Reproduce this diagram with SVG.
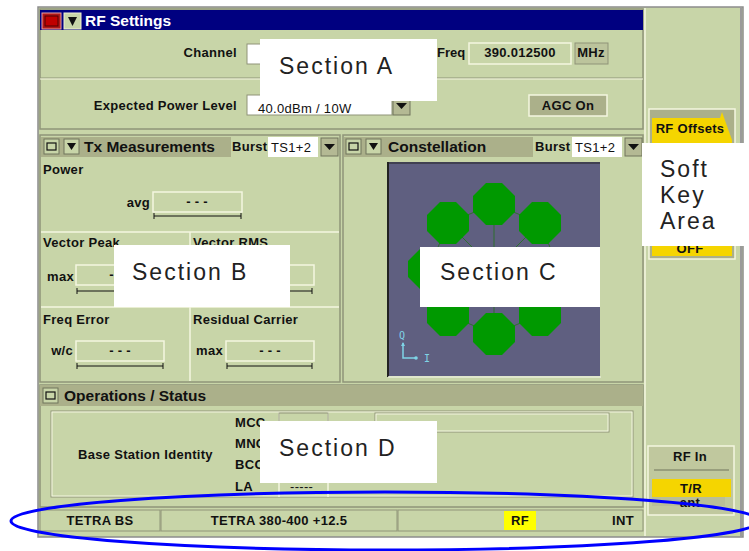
<svg xmlns="http://www.w3.org/2000/svg" width="749" height="551" viewBox="0 0 749 551">
<style>
.ui{font-family:"Liberation Sans",Arial,sans-serif;font-weight:bold;font-size:13px;letter-spacing:0.3px;fill:#111}
.hdr{font-family:"Liberation Sans",Arial,sans-serif;font-weight:bold;font-size:15.5px;fill:#111}
.sec{font-family:"Liberation Sans",Arial,sans-serif;font-size:23px;fill:#222;letter-spacing:2px}
.panel{fill:#c8d5a8;stroke:#8f9478;stroke-width:1.5}
.hbar{fill:#abb08a}
.box{fill:#c8d5a8;stroke:#f4f6e0;stroke-width:1.5}
.boxd{fill:#c8d5a8;stroke:#8f9478;stroke-width:1}
.white{fill:#ffffff}
.yel{fill:#f5d500}
.oct{fill:#009900}
.cy{fill:none;stroke:#7fd4e6;stroke-width:1.5}
</style>
<defs>
<g id="ddarrow"><rect x="0" y="0" width="17" height="18" fill="#b4b994" stroke="#70745c" stroke-width="1"/><polygon points="3,6 14,6 8.5,12" fill="#111"/></g>
<g id="sqbtn"><rect x="0" y="0" width="15" height="15" fill="#c8d5a8" stroke="#70745c" stroke-width="1"/><rect x="3" y="4" width="9" height="7" fill="none" stroke="#111" stroke-width="1.2"/></g>
<g id="dnbtn"><rect x="0" y="0" width="15" height="15" fill="#c8d5a8" stroke="#70745c" stroke-width="1"/><polygon points="3,4 12,4 7.5,11" fill="#111"/></g>
<polygon id="octa" points="-8,-21 8,-21 21,-8 21,8 8,21 -8,21 -21,8 -21,-8"/>
</defs>
<rect x="0" y="0" width="749" height="551" fill="#ffffff"/>

<g id="frame">
<rect x="38" y="7" width="705" height="530" fill="#c8d5a8" stroke="#8c8c8c" stroke-width="1.5"/>
<line x1="741" y1="7" x2="741" y2="537" stroke="#9a9a9a" stroke-width="2"/>
<line x1="645" y1="8" x2="645" y2="536" stroke="#f4f6e0" stroke-width="1.5"/>
</g>

<g id="rf-settings">
<rect x="40" y="9" width="603" height="120" class="panel"/>
<rect x="40" y="10" width="603" height="20" fill="#000080"/>
<rect x="42" y="13" width="19" height="16" fill="#b01818" stroke="#e8a0a0" stroke-width="1"/>
<rect x="45" y="16" width="13" height="10" fill="#c00000" stroke="#500000" stroke-width="1"/>
<rect x="64" y="13" width="17" height="16" fill="#c8d5a8" stroke="#f0f0d0" stroke-width="1"/>
<polygon points="68,17 77,17 72.5,26" fill="#111"/>
<text x="85" y="26" class="hdr" style="fill:#ffffff">RF Settings</text>
<text x="237" y="57" class="ui" text-anchor="end">Channel</text>
<rect x="247" y="44" width="30" height="20" class="white" stroke="#8f9478"/>
<text x="437" y="57" class="ui" style="letter-spacing:0">Freq</text>
<rect x="469" y="43" width="102" height="21" class="box"/>
<text x="520" y="57" class="ui" text-anchor="middle">390.012500</text>
<rect x="575" y="43" width="33" height="21" fill="#bcc49c" stroke="#8f9478"/>
<text x="591" y="57" class="ui" text-anchor="middle">MHz</text>
<line x1="40" y1="78" x2="643" y2="78" stroke="#8f9478" stroke-width="1"/>
<line x1="40" y1="79" x2="643" y2="79" stroke="#f4f6e0" stroke-width="1"/>
<text x="237" y="110" class="ui" text-anchor="end">Expected Power Level</text>
<rect x="247" y="95" width="145" height="20" class="white" stroke="#8f9478"/>
<text x="258" y="113" class="ui" style="font-weight:normal">40.0dBm / 10W</text>
<use href="#ddarrow" x="393" y="97"/>
<rect x="529" y="95" width="78" height="21" fill="#abb08a" stroke="#f4f6e0" stroke-width="1.5"/>
<text x="568" y="110" class="ui" text-anchor="middle">AGC On</text>
</g>

<g id="tx-measurements">
<rect x="40" y="135" width="300" height="247" class="panel"/>
<rect x="41" y="137" width="190" height="20" class="hbar"/>
<use href="#sqbtn" x="44" y="139"/>
<use href="#dnbtn" x="64" y="139"/>
<text x="84" y="152" class="hdr">Tx Measurements</text>
<text x="232" y="151" class="ui">Burst</text>
<rect x="268" y="137" width="50" height="20" class="white"/>
<text x="271" y="152" class="ui" style="font-size:13px;font-weight:normal">TS1+2</text>
<use href="#ddarrow" x="321" y="138"/>
<text x="43" y="174" class="ui">Power</text>
<text x="150" y="207" class="ui" text-anchor="end">avg</text>
<rect x="153" y="192" width="89" height="20" class="box"/>
<text x="197" y="206" class="ui" text-anchor="middle">- - -</text>
<path d="M154 216 H241 M154 213 V219 M241 213 V219" stroke="#111" stroke-width="1"/>
<line x1="41" y1="232" x2="339" y2="232" stroke="#f4f6e0" stroke-width="1.5"/>
<line x1="190" y1="232" x2="190" y2="307" stroke="#f4f6e0" stroke-width="1.5"/>
<text x="43" y="247" class="ui">Vector Peak</text>
<text x="193" y="247" class="ui">Vector RMS</text>
<text x="74" y="281" class="ui" text-anchor="end">max</text>
<rect x="76" y="265" width="88" height="20" class="box"/>
<text x="120" y="279" class="ui" text-anchor="middle">- - -</text>
<path d="M77 291 H163 M77 288 V294 M163 288 V294" stroke="#111" stroke-width="1"/>
<rect x="226" y="265" width="88" height="20" class="box"/>
<path d="M227 291 H312 M227 288 V294 M312 288 V294" stroke="#111" stroke-width="1"/>
<line x1="41" y1="307" x2="339" y2="307" stroke="#f4f6e0" stroke-width="1.5"/>
<line x1="190" y1="307" x2="190" y2="381" stroke="#f4f6e0" stroke-width="1.5"/>
<text x="43" y="324" class="ui">Freq Error</text>
<text x="193" y="324" class="ui">Residual Carrier</text>
<text x="73" y="355" class="ui" text-anchor="end">w/c</text>
<rect x="76" y="341" width="88" height="20" class="box"/>
<text x="120" y="355" class="ui" text-anchor="middle">- - -</text>
<path d="M77 366 H163 M77 363 V369 M163 363 V369" stroke="#111" stroke-width="1"/>
<text x="223" y="355" class="ui" text-anchor="end">max</text>
<rect x="226" y="341" width="88" height="20" class="box"/>
<text x="270" y="355" class="ui" text-anchor="middle">- - -</text>
<path d="M227 366 H312 M227 363 V369 M312 363 V369" stroke="#111" stroke-width="1"/>
</g>

<g id="constellation">
<rect x="343" y="135" width="300" height="247" class="panel"/>
<rect x="344" y="137" width="189" height="20" class="hbar"/>
<use href="#sqbtn" x="346" y="139"/>
<use href="#dnbtn" x="366" y="139"/>
<text x="388" y="152" class="hdr">Constellation</text>
<text x="535" y="151" class="ui">Burst</text>
<rect x="572" y="137" width="50" height="20" class="white"/>
<text x="575" y="152" class="ui" style="font-size:13px;font-weight:normal">TS1+2</text>
<use href="#ddarrow" x="625" y="138"/>
<rect x="388" y="162" width="212" height="214" fill="#5f5f80"/>
<line x1="388" y1="162" x2="388" y2="377" stroke="#222" stroke-width="2"/>
<line x1="388" y1="163" x2="600" y2="163" stroke="#222" stroke-width="1"/>
<line x1="388" y1="377" x2="601" y2="377" stroke="#e8ecd8" stroke-width="1.5"/>
<g stroke="#2f6f2f" stroke-width="1" fill="none">
<polygon points="494,204 540,223 559,269 540,315 494,334 448,315 429,269 448,223"/>
<path d="M494 204 L494 334 M448 223 L540 315 M540 223 L448 315 M429 269 L559 269"/>
</g>
<g class="oct">
<use href="#octa" x="494" y="204"/>
<use href="#octa" x="448" y="223"/>
<use href="#octa" x="540" y="223"/>
<use href="#octa" x="429" y="269"/>
<use href="#octa" x="559" y="269"/>
<use href="#octa" x="448" y="315"/>
<use href="#octa" x="540" y="315"/>
<use href="#octa" x="494" y="334"/>
</g>
<text x="399" y="339" font-family="DejaVu Sans Mono,monospace" font-size="10" fill="#7fd4e6">Q</text>
<path d="M403 343 V358 H416" class="cy"/>
<polygon points="401,346 403,342 405,346" fill="#7fd4e6"/>
<circle cx="416" cy="358" r="1.8" fill="#7fd4e6"/>
<text x="424" y="362" font-family="DejaVu Sans Mono,monospace" font-size="10" fill="#7fd4e6">I</text>
</g>

<g id="operations-status">
<rect x="40" y="385" width="603" height="122" class="panel" stroke="none"/>
<rect x="40" y="385" width="603" height="21" class="hbar"/>
<use href="#sqbtn" x="43" y="388"/>
<text x="64" y="401" class="hdr">Operations / Status</text>
<rect x="51" y="411" width="582" height="86" fill="none" stroke="#8f9478" stroke-width="1"/>
<rect x="52" y="412" width="580" height="84" fill="none" stroke="#f4f6e0" stroke-width="1"/>
<text x="78" y="459" class="ui">Base Station Identity</text>
<text x="235" y="427" class="ui">MCC</text>
<text x="235" y="448" class="ui">MNC</text>
<text x="235" y="469" class="ui">BCC</text>
<text x="235" y="491" class="ui">LA</text>
<line x1="279" y1="412" x2="279" y2="497" stroke="#f4f6e0" stroke-width="1.5"/>
<line x1="328" y1="412" x2="328" y2="497" stroke="#f4f6e0" stroke-width="1.5"/>
<rect x="279" y="413" width="49" height="19" fill="none" stroke="#8f9478" stroke-width="1"/>
<text x="290" y="491" class="ui" style="font-weight:normal">-----</text>
<rect x="375" y="413" width="234" height="19" fill="none" stroke="#8f9478" stroke-width="1"/>
<rect x="376" y="414" width="232" height="17" fill="none" stroke="#f4f6e0" stroke-width="1"/>
</g>

<g id="status-bar">
<rect x="40" y="510" width="120" height="21" class="boxd"/>
<text x="100" y="525" class="ui" text-anchor="middle">TETRA BS</text>
<rect x="161" y="510" width="236" height="21" class="boxd"/>
<text x="279" y="525" class="ui" text-anchor="middle">TETRA 380-400 +12.5</text>
<rect x="398" y="510" width="245" height="21" class="boxd"/>
<rect x="504" y="511" width="32" height="19" fill="#ffff00"/>
<text x="520" y="525" class="ui" text-anchor="middle">RF</text>
<text x="623" y="525" class="ui" text-anchor="middle">INT</text>
</g>

<g id="soft-keys">
<rect x="649" y="109" width="86" height="150" fill="#abb08a" stroke="#f4f6e0" stroke-width="1.5"/>
<polygon points="652,118 720,118 722,112 732,140 732,256 652,256" class="yel"/>
<text x="690" y="133" class="ui" text-anchor="middle">RF Offsets</text>
<text x="690" y="253" class="ui" text-anchor="middle">OFF</text>
<rect x="648" y="446" width="86" height="69" fill="#c0c89e" stroke="#f4f6e0" stroke-width="1.5"/>
<text x="690" y="461" class="ui" text-anchor="middle">RF In</text>
<line x1="654" y1="470" x2="729" y2="470" stroke="#70745c" stroke-width="1"/>
<rect x="652" y="479" width="79" height="18" class="yel"/>
<text x="691" y="493" class="ui" text-anchor="middle">T/R</text>
<rect x="652" y="497" width="73" height="9" fill="#b9be98"/>
<text x="690" y="507" class="ui" text-anchor="middle">ant</text>
</g>

<g id="section-labels">
<rect x="260" y="39" width="177" height="62" class="white"/>
<text x="279" y="74" class="sec">Section A</text>
<rect x="114" y="245" width="176" height="62" class="white"/>
<text x="132" y="280" class="sec">Section B</text>
<rect x="420" y="247" width="180" height="60" class="white"/>
<text x="440" y="280" class="sec">Section C</text>
<rect x="260" y="421" width="177" height="62" class="white"/>
<text x="279" y="456" class="sec">Section D</text>
<rect x="642" y="143" width="107" height="103" class="white"/>
<text x="660" y="177" class="sec">Soft</text>
<text x="660" y="203" class="sec">Key</text>
<text x="660" y="229" class="sec">Area</text>
</g>

<g id="connectors">
<ellipse cx="385" cy="521" rx="374" ry="29" fill="none" stroke="#0000ff" stroke-width="3"/>
</g>
</svg>
